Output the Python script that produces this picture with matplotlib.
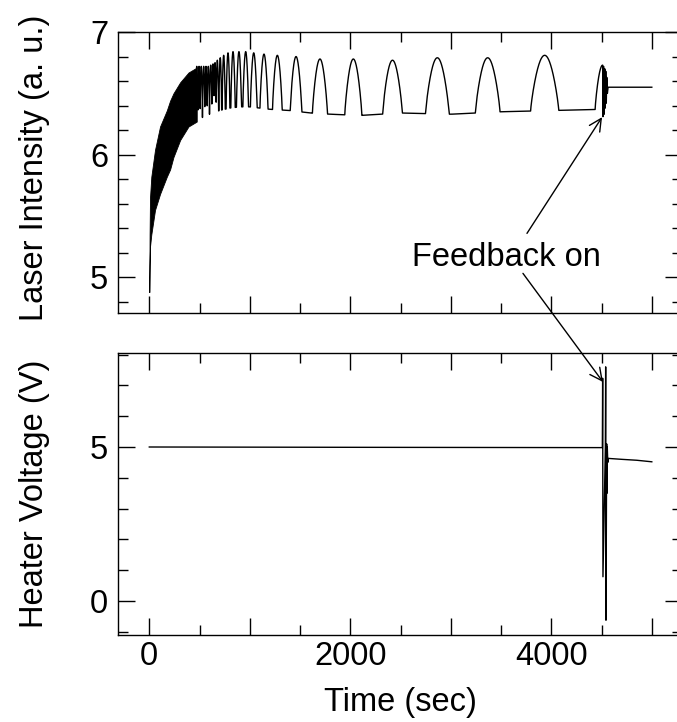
import numpy as np
import matplotlib
matplotlib.use("Agg")
import matplotlib.pyplot as plt
from matplotlib.ticker import MultipleLocator, FuncFormatter

plt.rcParams['font.family'] = ['Liberation Sans', 'DejaVu Sans']

# ---------------- data ----------------
# dense start-up region (t < ~470 s): envelopes of the fast oscillation
env_t = [0, 3, 7, 20, 57, 107, 174, 207, 240, 307, 390, 472]
env_upper = [4.88, 5.35, 5.65, 5.82, 6.04, 6.23, 6.36, 6.44, 6.50, 6.59, 6.67, 6.71]
env_lower = [4.88, 5.10, 5.25, 5.35, 5.55, 5.68, 5.82, 5.88, 5.98, 6.12, 6.23, 6.27]

# individual intensity peaks: time (s), height (a.u.), base width (s)
peak_t = [472, 495, 517, 541, 564, 587, 611, 634, 654, 677, 706, 740, 783, 833,
          892, 959, 1039, 1141, 1274, 1460, 1698, 2030, 2420, 2866, 3367, 3934, 4511]
peak_h = [6.72, 6.72, 6.72, 6.72, 6.72, 6.72, 6.73, 6.74, 6.75, 6.77, 6.79, 6.81,
          6.83, 6.84, 6.84, 6.84, 6.83, 6.82, 6.81, 6.80, 6.78, 6.78, 6.77, 6.79,
          6.79, 6.81, 6.73]
peak_w = [24, 24, 24, 24, 24, 24, 24, 24, 24, 25, 28, 32, 38, 44,
          50, 56, 66, 80, 96, 115, 150, 170, 195, 235, 245, 280, 150]

# trough (baseline) level between peaks
base_t = [470, 520, 600, 700, 800, 900, 1000, 1200, 1400, 1600, 1800, 2100,
          2500, 3000, 3500, 4000, 4511]
base_v = [6.27, 6.30, 6.33, 6.36, 6.38, 6.39, 6.39, 6.37, 6.36, 6.34, 6.33, 6.32,
          6.34, 6.33, 6.35, 6.36, 6.37]

# after feedback is switched on
fb_t = [4514, 4520, 4526, 4532, 4537, 4542, 4547, 4552, 4558, 4565, 5000]
fb_v = [6.31, 6.72, 6.33, 6.70, 6.38, 6.68, 6.42, 6.63, 6.50, 6.55, 6.55]

# heater voltage
heat_t = [0, 2000, 4508, 4511, 4514, 4538, 4541, 4544, 4551, 4554, 4557, 4562,
          4567, 4700, 4850, 5000]
heat_v = [5.00, 4.99, 4.98, 7.23, 0.79, 5.0, 7.60, -0.62, 5.1, 3.5, 5.0, 4.5,
          4.63, 4.60, 4.57, 4.52]

xticks_major = 1000
xticks_minor = 500
# ----------------------------------------------------------------

# build the intensity trace from the peak table
t = np.arange(470, 4512, 1.0)
base = np.interp(t, base_t, base_v)
sig = base.copy()
for p, h, w in zip(peak_t, peak_h, peak_w):
    u = (t - p) / (w / 2.0)
    m = np.abs(u) < 1
    val = base[m] + (h - base[m]) * np.cos(np.pi * u[m] / 2.0) ** 0.8
    sig[m] = np.maximum(sig[m], val)
t_all = np.concatenate([t, fb_t])
s_all = np.concatenate([sig, fb_v])

W, H = 677, 722
fig = plt.figure(figsize=(W / 100, H / 100), dpi=100)

left_px, right_px = 118, 682
ax1 = fig.add_axes([left_px / W, 1 - 313 / H, (right_px - left_px) / W, (313 - 32) / H])
ax2 = fig.add_axes([left_px / W, 1 - 635 / H, (right_px - left_px) / W, (635 - 353) / H])

x0 = (left_px - 149.3) / 0.1005
x1 = (right_px - 149.3) / 0.1005

ax1.fill_between(env_t, env_lower, env_upper, color='black', lw=0.6, edgecolor='black')
ax1.plot(t_all, s_all, color='black', lw=1.0)
ax1.set_xlim(x0, x1)
ax1.set_ylim(4.71, 7.0)

ax2.plot(heat_t, heat_v, color='black', lw=1.0)
ax2.set_xlim(x0, x1)
ax2.set_ylim(-1.10, 8.05)

fs = 23.5
for ax in (ax1, ax2):
    ax.xaxis.set_major_locator(MultipleLocator(xticks_major))
    ax.xaxis.set_minor_locator(MultipleLocator(xticks_minor))
    ax.tick_params(which='both', direction='in', top=True, right=True, width=1.0)
    ax.tick_params(which='major', length=12, labelsize=fs, pad=7)
    ax.tick_params(which='minor', length=7)
    for sp in ax.spines.values():
        sp.set_linewidth(1.0)

ax1.yaxis.set_major_locator(MultipleLocator(1))
ax1.yaxis.set_minor_locator(MultipleLocator(0.2))
ax1.tick_params(axis='x', labelbottom=False)
ax2.yaxis.set_major_locator(MultipleLocator(5))
ax2.yaxis.set_minor_locator(MultipleLocator(1))
ax2.tick_params(axis='x', which='major', pad=4)
ax2.xaxis.set_major_formatter(FuncFormatter(lambda v, p: f"{int(v)}" if int(round(v)) % 2000 == 0 else ""))

fig.text(35 / W, 1 - 168 / H, "Laser Intensity (a. u.)", rotation=90, ha='center', va='center', fontsize=fs)
fig.text(35 / W, 1 - 494 / H, "Heater Voltage (V)", rotation=90, ha='center', va='center', fontsize=fs)
fig.text(400 / W, 1 - 703 / H, "Time (sec)", ha='center', va='center', fontsize=fs)

# annotation
ax1.text(3549, 5.163, "Feedback on", ha='center', va='center', fontsize=fs)
ax1.annotate('', xy=(4505, 6.306), xytext=(3758, 5.359),
             arrowprops=dict(arrowstyle='->', lw=1.0, color='black',
                             mutation_scale=22, shrinkA=0, shrinkB=0))
ax2.annotate('', xy=(4514, 7.11), xytext=(3718, 5.033), textcoords=ax1.transData,
             arrowprops=dict(arrowstyle='->', lw=1.0, color='black',
                             mutation_scale=22, shrinkA=0, shrinkB=0),
             annotation_clip=False)

fig.savefig("out.png", dpi=100)
